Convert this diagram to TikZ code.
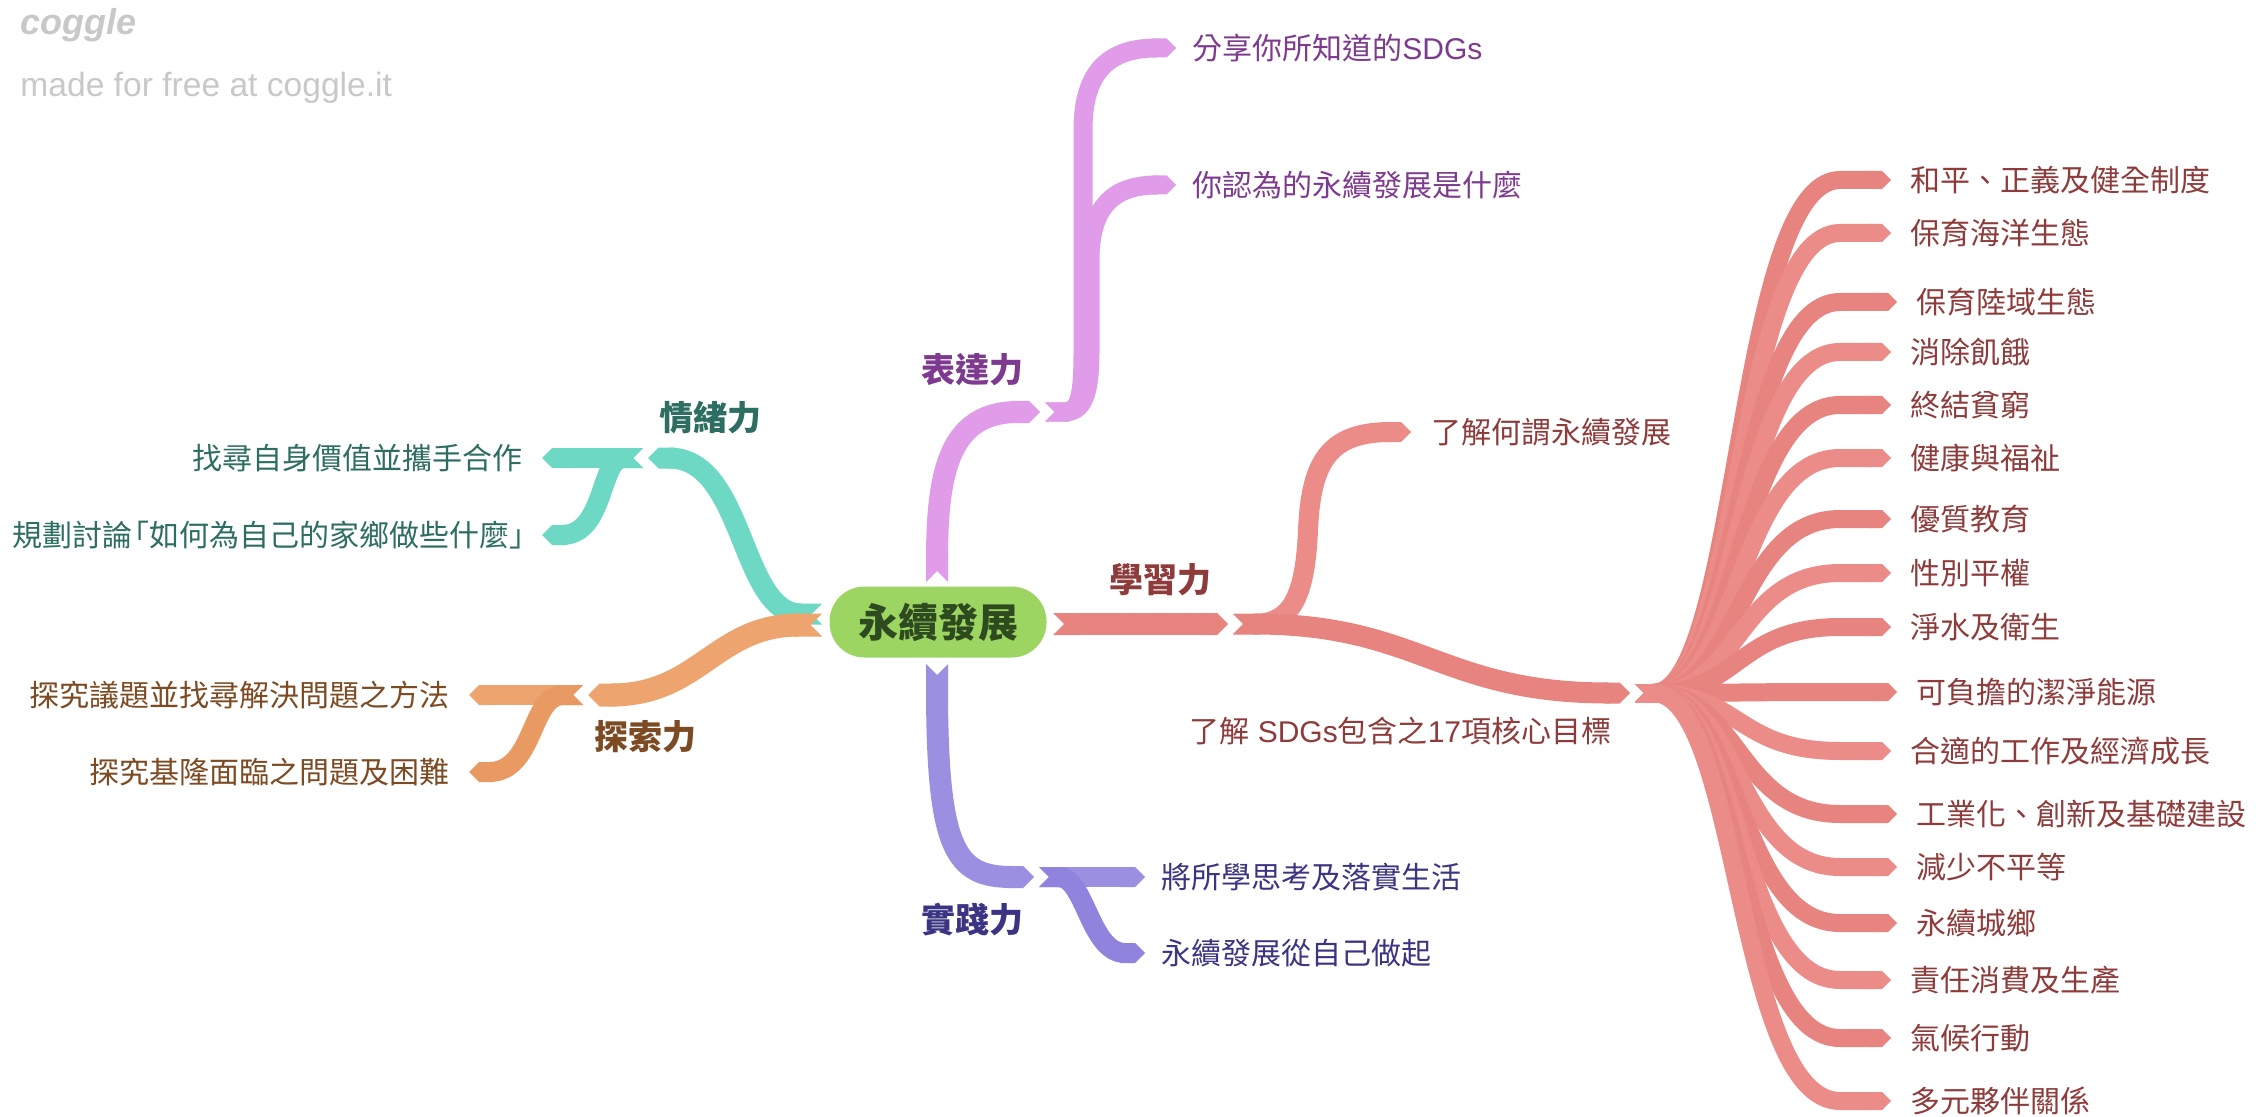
\documentclass[tikz,border=0pt]{standalone}
\usepackage{fontspec}
\setmainfont{Liberation Sans}
\newfontfamily\cjk{Noto Sans CJK TC}
\usetikzlibrary{arrows.meta}
\definecolor{tealR}{HTML}{6DD8C3}
\definecolor{tealT}{HTML}{2E6E62}
\definecolor{orgR}{HTML}{EDA46F}
\definecolor{orgR2}{HTML}{E99A62}
\definecolor{orgT}{HTML}{7D4B23}
\definecolor{vioR}{HTML}{E09CE8}
\definecolor{vioT}{HTML}{7E3A8E}
\definecolor{redR}{HTML}{E8847F}
\definecolor{redR2}{HTML}{EB8C88}
\definecolor{redT}{HTML}{8E3B3B}
\definecolor{bluR}{HTML}{9B8FE2}
\definecolor{bluR2}{HTML}{8F83DE}
\definecolor{bluT}{HTML}{3A3482}
\definecolor{cenF}{HTML}{9DD563}
\definecolor{cenT}{HTML}{2E4A1F}
\definecolor{logoG}{HTML}{C8C8C8}
\newcommand\latn[1]{{\rmfamily #1}}
\newcommand\obr{\makebox[0.55em][r]{「}}
\newcommand\cbr{\makebox[0.55em][l]{」}}
\begin{document}
\begin{tikzpicture}[x=0.5pt,y=-0.5pt,
  rib/.style={line width=#1, {Triangle Cap[reversed]}-{Triangle Cap}},
  leaf/.style={inner sep=0pt, text height=11.4pt, text depth=0pt, font=\cjk\fontsize{15}{18}\selectfont},
  lab/.style={inner sep=0pt, text height=12.9pt, text depth=0pt, font=\cjk\bfseries\fontsize{17}{20}\selectfont},
]
\useasboundingbox (0,0) rectangle (2258,1117);
\clip (0,0) rectangle (2258,1117);

% logo
\node[anchor=base west, inner sep=0pt, text=logoG, font=\fontsize{18}{20}\selectfont\bfseries\itshape] (logo) at (20,35) {coggle};
\node[anchor=base west, inner sep=0pt, text=logoG, font=\fontsize{16.8}{19}\selectfont] (made) at (20,97) {made for free at coggle.it};

% coordinates
\coordinate (tS) at (822,614);  \coordinate (tE) at (648,458);
\coordinate (tcS) at (643,458); \coordinate (tc1) at (542,458); \coordinate (tc2) at (542,535);
\coordinate (oS) at (822,625);  \coordinate (oE) at (588,695);
\coordinate (ocS) at (583,695); \coordinate (oc1) at (469,695); \coordinate (oc2) at (469,772);
\coordinate (vS) at (937,582);  \coordinate (vE) at (1040,412);
\coordinate (vcS) at (1045,412); \coordinate (vc1) at (1176,48); \coordinate (vc2) at (1176,185);
\coordinate (rS) at (1053,624); \coordinate (rE) at (1228,624);
\coordinate (rcS) at (1233,624); \coordinate (rA) at (1411,432); \coordinate (rB) at (1630,693);
\coordinate (sS) at (1635,693);
\coordinate (pS) at (937,664);  \coordinate (pE) at (1034,877);
\coordinate (pcS) at (1039,877); \coordinate (pc1) at (1145,877); \coordinate (pc2) at (1145,953);

% teal branch
\draw[rib=10.5pt, tealR] (tS) .. controls (740,614) and (745,458) .. (tE);
\draw[rib=10pt, tealR] (tcS) -- (tc1);
\draw[rib=10pt, tealR] (tcS) .. controls (600,458) and (605,535) .. (tc2);
% orange branch
\draw[rib=11.5pt, orgR] (oS) .. controls (715,625) and (700,695) .. (oE);
\draw[rib=10pt, orgR] (ocS) -- (oc1);
\draw[rib=10pt, orgR2] (ocS) .. controls (530,695) and (535,772) .. (oc2);
% violet branch
\draw[rib=11pt, vioR] (vS) .. controls (937,470) and (950,412) .. (vE);
\draw[rib=9.5pt, vioR] (vcS) .. controls (1080,412) and (1083,395) .. (1083,350) -- (1083,130) .. controls (1083,70) and (1110,48) .. (vc1);
\draw[rib=9.5pt, vioR] (vcS) .. controls (1083,412) and (1090,395) .. (1090,350) -- (1090,260) .. controls (1090,205) and (1115,185) .. (vc2);
% red branch
\draw[rib=11pt, redR] (rS) -- (rE);
\draw[rib=10pt, redR2] (rcS) .. controls (1290,624) and (1305,600) .. (1308,530) .. controls (1311,460) and (1330,432) .. (rA);
\draw[rib=10.5pt, redR] (rcS) .. controls (1420,624) and (1440,693) .. (rB);
\foreach \yy/\tx/\txt/\cc [count=\i] in {
  180/1891/和平、正義及健全制度/redR,
  233/1891/保育海洋生態/redR2,
  302/1897/保育陸域生態/redR,
  352/1891/消除飢餓/redR2,
  405/1891/終結貧窮/redR,
  458/1891/健康與福祉/redR2,
  519/1891/優質教育/redR,
  573/1891/性別平權/redR2,
  627/1891/淨水及衛生/redR,
  692/1897/可負擔的潔淨能源/redR,
  751/1891/合適的工作及經濟成長/redR2,
  814/1897/工業化、創新及基礎建設/redR,
  867/1897/減少不平等/redR2,
  923/1897/永續城鄉/redR,
  980/1891/責任消費及生產/redR2,
  1038/1891/氣候行動/redR,
  1101/1891/多元夥伴關係/redR2}{
  \coordinate (sdg\i) at (\tx,\yy);
  \draw[rib=9pt, \cc] (sS) .. controls (1740,693) and (1736,\yy) .. (1840,\yy) -- (sdg\i);
  \node[leaf, anchor=west, text=redT] (sdgt\i) at ([xshift=9.5pt]sdg\i) {\txt};
}
% blue branch
\draw[rib=11pt, bluR] (pS) .. controls (937,850) and (955,877) .. (pE);
\draw[rib=10pt, bluR] (pcS) -- (pc1);
\draw[rib=10pt, bluR2] (pcS) .. controls (1085,877) and (1090,953) .. (pc2);

% center node
\node[draw=white, line width=1.5pt, fill=cenF, rounded corners=18pt, minimum width=110pt, minimum height=37pt, inner sep=0pt, text height=15.2pt, text depth=0pt, text=cenT, font=\cjk\bfseries\fontsize{20}{24}\selectfont] (C) at (938,622) {永續發展};

% labels
\node[lab, text=tealT] (Lt) at (710,418) {情緒力};
\node[lab, text=orgT] (Lo) at (645,737) {探索力};
\node[lab, text=vioT] (Lv) at (972,370) {表達力};
\node[lab, text=redT] (Lr) at (1160,580) {學習力};
\node[lab, text=bluT] (Lp) at (972,920) {實踐力};

% leaves
\node[leaf, anchor=east, text=tealT] (t1) at ([xshift=-9.5pt]tc1) {找尋自身價值並攜手合作};
\node[leaf, anchor=east, text=tealT] (t2) at ([xshift=-8pt]tc2) {規劃討論\obr 如何為自己的家鄉做些什麼\cbr};
\node[leaf, anchor=east, text=orgT] (o1) at ([xshift=-9.5pt]oc1) {探究議題並找尋解決問題之方法};
\node[leaf, anchor=east, text=orgT] (o2) at ([xshift=-9.5pt]oc2) {探究基隆面臨之問題及困難};
\node[leaf, anchor=west, text=vioT] (v1) at ([xshift=8pt]vc1) {分享你所知道的\latn{SDGs}};
\node[leaf, anchor=west, text=vioT] (v2) at ([xshift=8pt]vc2) {你認為的永續發展是什麼};
\node[leaf, anchor=west, text=redT] (rAt) at ([xshift=10pt]rA) {了解何謂永續發展};
\node[leaf, anchor=west, text=redT] (rBt) at (1189,731) {了解\latn{ SDGs}包含之\latn{17}項核心目標};
\node[leaf, anchor=west, text=bluT] (p1) at ([xshift=8pt]pc1) {將所學思考及落實生活};
\node[leaf, anchor=west, text=bluT] (p2) at ([xshift=8pt]pc2) {永續發展從自己做起};
\end{tikzpicture}
\end{document}
